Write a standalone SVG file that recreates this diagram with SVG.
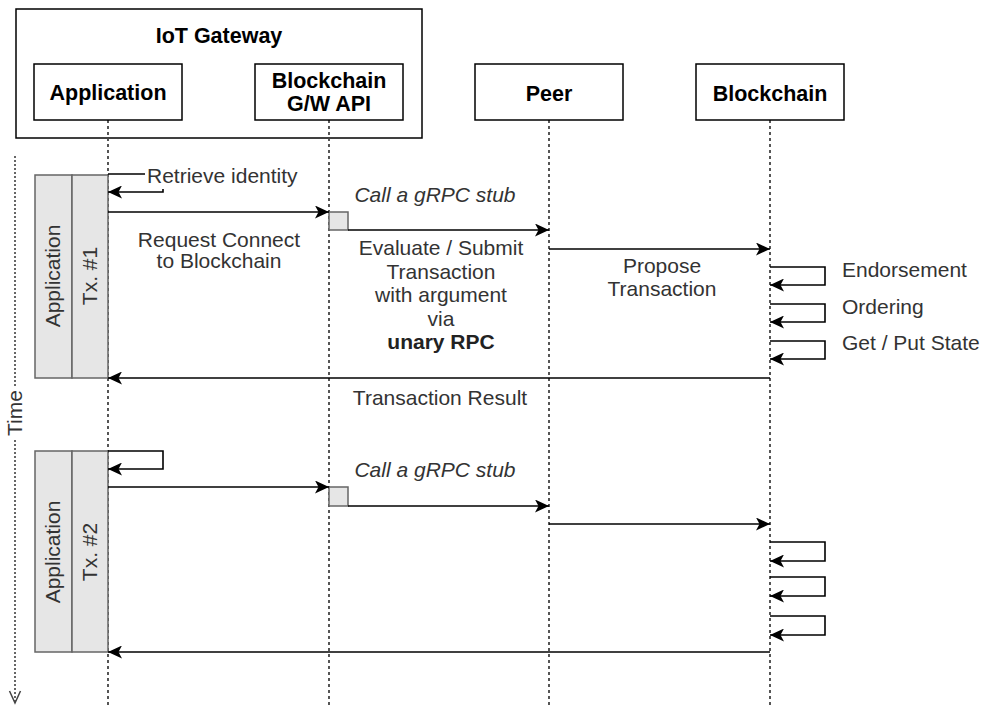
<svg xmlns="http://www.w3.org/2000/svg" width="988" height="706" viewBox="0 0 988 706">
<style>
text{font-family:"Liberation Sans",Arial,sans-serif;font-size:21px;}
.b{font-weight:bold;fill:#000;font-size:21.5px;}
.m{fill:#333;}
.c{text-anchor:middle;}
.box{fill:#fff;stroke:#000;stroke-width:1.5;}
.life{stroke:#444;stroke-width:1.8;stroke-dasharray:3 3;fill:none;}
.msg{stroke:#000;stroke-width:1.6;fill:none;}
.act{fill:#e6e6e6;stroke:#666;stroke-width:1.5;}
.time{stroke:#666;stroke-width:2;stroke-dasharray:2 2;fill:none;}
</style>
<defs>
<marker id="arr" markerUnits="userSpaceOnUse" markerWidth="15" markerHeight="13" refX="14" refY="6.5" orient="auto">
<path d="M0,0 L14,6.5 L0,13 L3.5,6.5 Z" fill="#000"/>
</marker>
</defs>
<rect width="988" height="706" fill="#fff"/>

<g id="iot-gateway">
<rect class="box" x="16" y="9" width="406" height="129"/>
<text class="b c" x="219" y="43">IoT Gateway</text>
</g>

<g id="lifelines">
<line class="life" x1="108" y1="120" x2="108" y2="706"/>
<line class="life" x1="329" y1="120" x2="329" y2="706"/>
<line class="life" x1="549" y1="120" x2="549" y2="706"/>
<line class="life" x1="770" y1="120" x2="770" y2="706"/>
</g>

<g id="application">
<rect class="box" x="34" y="64" width="148" height="56"/>
<text class="b c" x="108" y="100">Application</text>
</g>
<g id="gw-api">
<rect class="box" x="255" y="64" width="148" height="56"/>
<text class="b c" x="329" y="88">Blockchain</text>
<text class="b c" x="329" y="111">G/W API</text>
</g>
<g id="peer">
<rect class="box" x="475" y="64" width="148" height="56"/>
<text class="b c" x="549" y="101">Peer</text>
</g>
<g id="blockchain">
<rect class="box" x="696" y="64" width="148" height="56"/>
<text class="b c" x="770" y="101">Blockchain</text>
</g>

<g id="time-axis">
<line class="time" x1="15" y1="156" x2="15" y2="701"/>
<path d="M9.5,691 L15,703 L20.5,691" fill="none" stroke="#444" stroke-width="1.5"/>
<rect x="5" y="386" width="20" height="54" fill="#fff"/>
<text class="m c" transform="translate(22,413) rotate(-90)">Time</text>
</g>

<g id="tx1">
<rect class="act" x="35" y="175" width="37" height="203"/>
<rect class="act" x="72" y="175" width="36" height="203"/>
<text class="m c" transform="translate(60,276) rotate(-90)">Application</text>
<text class="m c" transform="translate(97,276) rotate(-90)">Tx. #1</text>
</g>
<g id="tx2">
<rect class="act" x="35" y="451" width="37" height="201"/>
<rect class="act" x="72" y="451" width="36" height="201"/>
<text class="m c" transform="translate(60,552) rotate(-90)">Application</text>
<text class="m c" transform="translate(97,552) rotate(-90)">Tx. #2</text>
</g>

<g id="gw-activation">
<rect class="act" x="329" y="212" width="19" height="18"/>
<rect class="act" x="329" y="487" width="19" height="19"/>
</g>

<g id="connectors">
<path class="msg" d="M108,174 H163 V192 H108" marker-end="url(#arr)"/>
<path class="msg" d="M108,212 H329" marker-end="url(#arr)"/>
<path class="msg" d="M348,230 H549" marker-end="url(#arr)"/>
<path class="msg" d="M549,249 H770" marker-end="url(#arr)"/>
<path class="msg" d="M770,267 H825 V285 H770" marker-end="url(#arr)"/>
<path class="msg" d="M770,304 H825 V322 H770" marker-end="url(#arr)"/>
<path class="msg" d="M770,341 H825 V359 H770" marker-end="url(#arr)"/>
<path class="msg" d="M770,378 H108" marker-end="url(#arr)"/>

<path class="msg" d="M108,451 H163 V469 H108" marker-end="url(#arr)"/>
<path class="msg" d="M108,487 H329" marker-end="url(#arr)"/>
<path class="msg" d="M348,506 H549" marker-end="url(#arr)"/>
<path class="msg" d="M549,524 H770" marker-end="url(#arr)"/>
<path class="msg" d="M770,542 H825 V561 H770" marker-end="url(#arr)"/>
<path class="msg" d="M770,577 H825 V596 H770" marker-end="url(#arr)"/>
<path class="msg" d="M770,616 H825 V635 H770" marker-end="url(#arr)"/>
<path class="msg" d="M770,652 H108" marker-end="url(#arr)"/>
</g>

<g id="labels">
<rect x="145" y="164" width="150" height="25" fill="#fff"/>
<text class="m" x="147" y="183">Retrieve identity</text>
<text class="m c" x="219" y="247">Request Connect</text>
<text class="m c" x="219" y="268">to Blockchain</text>
<text class="m c" x="435" y="202" font-style="italic">Call a gRPC stub</text>
<text class="m c" x="441" y="255">Evaluate / Submit</text>
<text class="m c" x="441" y="279">Transaction</text>
<text class="m c" x="441" y="302">with argument</text>
<text class="m c" x="441" y="326">via</text>
<text class="c" x="441" y="349" font-weight="bold" fill="#222">unary RPC</text>
<text class="m c" x="662" y="273">Propose</text>
<text class="m c" x="662" y="296">Transaction</text>
<text class="m" x="842" y="277">Endorsement</text>
<text class="m" x="842" y="314">Ordering</text>
<text class="m" x="842" y="350">Get / Put State</text>
<text class="m c" x="440" y="405">Transaction Result</text>
<text class="m c" x="435" y="477" font-style="italic">Call a gRPC stub</text>
</g>
</svg>
